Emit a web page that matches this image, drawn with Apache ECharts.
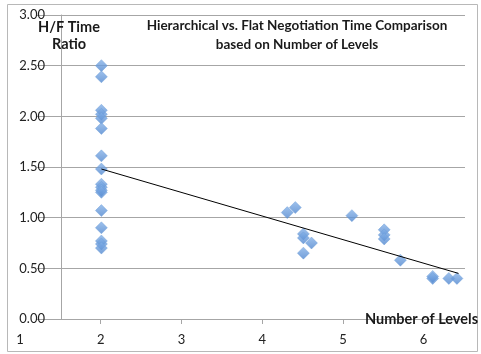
<!DOCTYPE html>
<html>
<head>
<meta charset="utf-8">
<script src="https://cdn.jsdelivr.net/npm/echarts@6/dist/echarts.min.js"></script>
<style>
html,body{margin:0;padding:0;background:#fff;}
#chart{width:481px;height:354px;}
</style>
</head>
<body>
<div id="chart"></div>
<script>
// Number of levels (x) and H/F time ratio (y) for each observation
const levels = [2,2,2,2,2,2,2,2,2,2,2,2,2,2,2,2,2,
                4.3,4.4,4.5,4.5,4.5,4.6,5.1,5.5,5.5,5.5,5.7,6.1,6.1,6.3,6.4];
const ratios = [2.50,2.39,2.06,2.02,1.98,1.88,1.61,1.48,1.33,1.30,1.27,1.25,1.07,0.90,0.77,0.74,0.70,
                1.05,1.10,0.84,0.80,0.65,0.75,1.02,0.88,0.83,0.79,0.58,0.42,0.40,0.40,0.40];
// Linear trendline end points
const trendX = [2, 6.42];
const trendY = [1.48, 0.45];
// Axis tick labels
const xTickLabels = [1, 2, 3, 4, 5, 6];
const xTickMarks = [2, 3, 4, 5, 6];
const yTickLabels = [0, 0.5, 1, 1.5, 2, 2.5, 3];

const chartTitle = 'Hierarchical vs. Flat Negotiation Time Comparison\nbased on Number of Levels';
const yName = 'H/F Time\nRatio';
const xName = 'Number of Levels';

const FONT = 'Lato';
const chart = echarts.init(document.getElementById('chart'), null, {renderer: 'canvas'});

const points = levels.map((x, i) => [x, ratios[i]]);
const trend = trendX.map((x, i) => [x, trendY[i]]);

chart.setOption({
  animation: false,
  backgroundColor: '#fff',
  graphic: [{
    type: 'rect', silent: true, z: -1,
    shape: {x: 7.5, y: 4.5, width: 470, height: 347},
    style: {fill: 'none', stroke: '#b8b8b8', lineWidth: 1}
  }],
  title: [
    {
      text: chartTitle,
      left: 297, top: 16, padding: 0,
      textAlign: 'center',
      textStyle: {fontFamily: FONT, fontWeight: 'bold', fontSize: 13.5, lineHeight: 19, color: '#1a1a1a'}
    },
    {
      // y-axis title
      text: yName,
      left: 69, top: 19, padding: 0,
      textAlign: 'center',
      textStyle: {fontFamily: FONT, fontWeight: 'bold', fontSize: 14.5, lineHeight: 17, color: '#1a1a1a'}
    }
  ],
  grid: [
    {left: 61, right: 16, top: 15, bottom: 35},
    {left: 20, right: 16, top: 15, bottom: 35}
  ],
  xAxis: [
    {
      type: 'value', gridIndex: 0, min: 1.5, max: 6.5,
      axisLine: {show: true, lineStyle: {color: '#a6a6a6', width: 1}},
      axisTick: {show: false},
      axisLabel: {show: false},
      splitLine: {show: false}
    },
    {
      type: 'value', gridIndex: 1, min: 1, max: 6.5, interval: 1,
      name: xName, nameLocation: 'end', nameGap: 14,
      nameTextStyle: {fontFamily: FONT, fontWeight: 'bold', fontSize: 14.5, color: '#1a1a1a',
                      align: 'right', verticalAlign: 'middle', padding: [0, 0, 6, 0]},
      axisLine: {show: false},
      axisTick: {show: true, length: 5, customValues: xTickMarks, lineStyle: {color: '#a6a6a6'}},
      axisLabel: {show: true, customValues: xTickLabels, margin: 14,
                  fontFamily: FONT, fontSize: 13, color: '#222'},
      splitLine: {show: false}
    }
  ],
  yAxis: [
    {
      type: 'value', gridIndex: 0, min: 0, max: 3, interval: 0.5,
      axisLine: {show: true, lineStyle: {color: '#a6a6a6', width: 1}},
      axisTick: {show: true, length: 24, customValues: yTickLabels, lineStyle: {color: '#a6a6a6'}},
      axisLabel: {show: true, margin: 16, customValues: yTickLabels,
                  formatter: v => v.toFixed(2),
                  fontFamily: FONT, fontSize: 13, color: '#222'},
      splitLine: {show: true, lineStyle: {color: '#a6a6a6', width: 1}}
    },
    {
      type: 'value', gridIndex: 1, min: 0, max: 3, show: false
    }
  ],
  series: [
    {
      type: 'scatter', xAxisIndex: 0, yAxisIndex: 0,
      data: points,
      symbol: 'diamond', symbolSize: [12, 12],
      itemStyle: {
        color: new echarts.graphic.LinearGradient(0, 0, 0, 1, [
          {offset: 0, color: '#86b2e8'},
          {offset: 1, color: '#4f86cf'}
        ]),
        borderColor: '#6a9ad8', borderWidth: 0.5
      },
      z: 2
    },
    {
      type: 'line', xAxisIndex: 0, yAxisIndex: 0,
      data: trend, showSymbol: false, symbol: 'none',
      lineStyle: {color: '#000', width: 1},
      z: 3
    }
  ]
});
</script>
</body>
</html>
